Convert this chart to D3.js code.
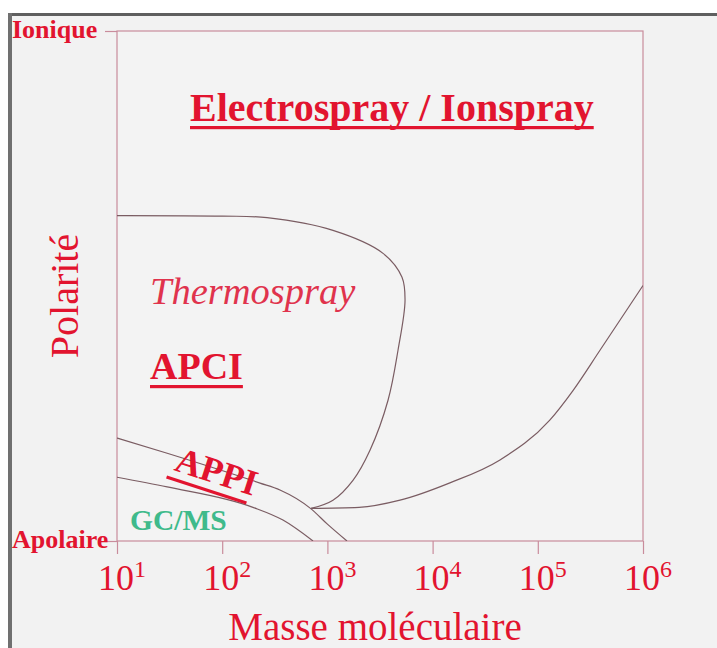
<!DOCTYPE html>
<html>
<head>
<meta charset="utf-8">
<script src="https://cdn.jsdelivr.net/npm/d3@7"></script>
<style>
  html, body { margin: 0; padding: 0; background: #fff; }
  svg { display: block; }
  text { font-family: "Liberation Serif", "Times New Roman", serif; }
</style>
</head>
<body>
<svg id="chart" width="717" height="648"></svg>
<script>
// axes
const massTicks = [1e1, 1e2, 1e3, 1e4, 1e5, 1e6];
const polarityLevels = [0, 100];
const polarityNames = ['Apolaire', 'Ionique'];

// region boundaries as [masse moléculaire, polarité %]
const thermosprayEdge = [[10, 63.8], [100, 63.7], [267, 63.4], [1130, 60.9], [3380, 56.4], [5120, 51.7], [5470, 47.2],
  [4690, 37.4], [3770, 27.6], [2540, 17.8], [1750, 11.9], [1130, 8.0], [700, 6.4]];
const ionsprayEdge = [[700, 6.4], [2000, 6.6], [4900, 8.0], [14600, 11.4], [43700, 15.9], [130000, 23.7],
  [216000, 29.5], [390000, 37.4], [1e6, 50.1]];
const appiEdge = [[10, 20.2], [30, 17.2], [229, 11.35], [354, 10.0], [700, 6.3], [1000, 3.3], [1535, 0]];
const gcmsEdge = [[10, 12.5], [30, 10.6], [196, 6.6], [378, 4.1], [730, 0]];

const red = '#e2142f';
const frameColor = '#c98c9c';
const curveColor = '#7a5c62';

const svg = d3.select('#chart');
const margin = { left: 117, right: 643, top: 31, bottom: 541 };

// page background like the scanned slide
svg.append('rect').attr('width', 717).attr('height', 648).attr('fill', '#f2f2f2');
svg.append('rect').attr('width', 717).attr('height', 13).attr('fill', '#fff');
svg.append('rect').attr('width', 8).attr('height', 648).attr('fill', '#fff');
svg.append('rect').attr('x', 8).attr('y', 13).attr('width', 709).attr('height', 3).attr('fill', '#5f5f5f');
svg.append('rect').attr('x', 8).attr('y', 13).attr('width', 4).attr('height', 635).attr('fill', '#707070');

const x = d3.scaleLog().domain([1e1, 1e6]).range([margin.left, margin.right]);
const y = d3.scaleLinear().domain([0, 100]).range([margin.bottom, margin.top]);

svg.append('defs').append('clipPath').attr('id', 'plot')
  .append('rect')
  .attr('x', margin.left).attr('y', margin.top)
  .attr('width', margin.right - margin.left).attr('height', margin.bottom - margin.top);

// frame
svg.append('rect')
  .attr('x', margin.left).attr('y', margin.top)
  .attr('width', margin.right - margin.left).attr('height', margin.bottom - margin.top)
  .attr('fill', '#f3f3f3')
  .attr('stroke', frameColor).attr('stroke-width', 1.2);

// x axis
const xAxis = svg.append('g')
  .attr('transform', `translate(0,${margin.bottom})`)
  .call(d3.axisBottom(x).tickValues(massTicks).tickSize(13).tickFormat(''));
xAxis.select('.domain').remove();
xAxis.selectAll('.tick line').attr('stroke', frameColor).attr('stroke-width', 1.2);

const tickLabels = svg.append('g').selectAll('text')
  .data(massTicks)
  .enter()
  .append('text')
  .attr('x', (d) => x(d) + 5)
  .attr('y', 590)
  .attr('text-anchor', 'middle')
  .attr('fill', red)
  .style('font-size', '36px');
tickLabels.append('tspan').text('10');
tickLabels.append('tspan')
  .attr('dy', -13)
  .style('font-size', '24px')
  .text((d) => Math.round(Math.log10(d)));

svg.append('text')
  .attr('x', 375).attr('y', 640)
  .attr('text-anchor', 'middle')
  .attr('fill', red)
  .style('font-size', '39px')
  .text('Masse moléculaire');

// y axis: only the two ends are named
const yAxis = svg.append('g')
  .attr('transform', `translate(${margin.left},0)`)
  .call(d3.axisLeft(y).tickValues(polarityLevels).tickSize(12).tickFormat(''));
yAxis.select('.domain').remove();
yAxis.selectAll('.tick line').attr('stroke', frameColor).attr('stroke-width', 1.2);

svg.append('g').selectAll('text')
  .data(polarityLevels)
  .enter()
  .append('text')
  .attr('x', 12)
  .attr('y', (d) => y(d) + 7)
  .attr('fill', red)
  .style('font-size', '26px')
  .style('font-weight', 'bold')
  .text((d, i) => polarityNames[i]);

svg.append('text')
  .attr('transform', 'translate(78,296) rotate(-90)')
  .attr('text-anchor', 'middle')
  .attr('fill', red)
  .style('font-size', '40px')
  .text('Polarité');

// boundaries
const smooth = d3.line()
  .x((d) => x(d[0]))
  .y((d) => y(d[1]))
  .curve(d3.curveCatmullRom.alpha(0.5));
const monotone = d3.line()
  .x((d) => x(d[0]))
  .y((d) => y(d[1]))
  .curve(d3.curveMonotoneX);

const curves = svg.append('g').attr('clip-path', 'url(#plot)');
curves.append('path').attr('d', smooth(thermosprayEdge));
curves.selectAll('path.mono')
  .data([ionsprayEdge, appiEdge, gcmsEdge])
  .enter()
  .append('path')
  .attr('class', 'mono')
  .attr('d', monotone);
curves.selectAll('path')
  .attr('fill', 'none')
  .attr('stroke', curveColor)
  .attr('stroke-width', 1.2);

// region labels
function label(g, txt, size, opts) {
  const t = g.append('text')
    .attr('fill', opts.color || red)
    .style('font-size', size + 'px')
    .style('font-weight', opts.bold ? 'bold' : 'normal')
    .style('font-style', opts.italic ? 'italic' : 'normal')
    .text(txt);
  if (opts.underline) {
    const w = t.node().getComputedTextLength();
    g.append('rect')
      .attr('x', opts.ux || 0).attr('y', opts.underline)
      .attr('width', w).attr('height', 3.2)
      .attr('fill', red);
  }
  return t;
}

label(svg.append('g').attr('transform', 'translate(190,121)'), 'Electrospray / Ionspray', 40, { bold: true, underline: 5 });
label(svg.append('g').attr('transform', 'translate(150,304)'), 'Thermospray', 38.5, { italic: true, color: '#e0334d' });
label(svg.append('g').attr('transform', 'translate(150,379)'), 'APCI', 38, { bold: true, underline: 6 });
label(svg.append('g').attr('transform', 'translate(173,470) rotate(18)'), 'APPI', 36, { bold: true, underline: 7, ux: -4 });
label(svg.append('g').attr('transform', 'translate(130,530)'), 'GC/MS', 29.5, { bold: true, color: '#3fba8b' });
</script>
</body>
</html>
